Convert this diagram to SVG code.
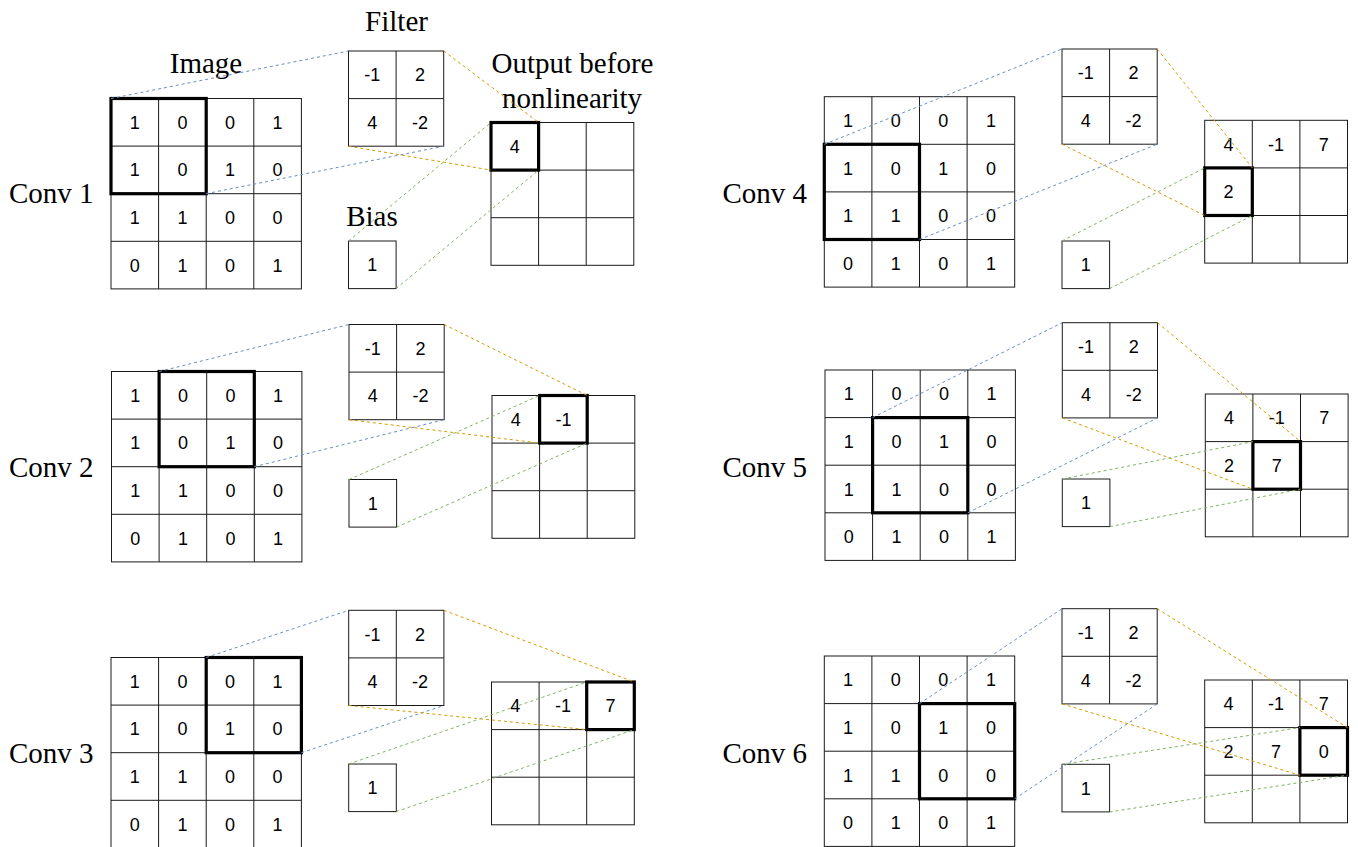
<svg xmlns="http://www.w3.org/2000/svg" width="1358" height="847" viewBox="0 0 1358 847">
<style>
.g{fill:none;stroke:#1a1a1a;stroke-width:1}
.hl{fill:none;stroke:#000;stroke-width:3.2}
.n{font-family:"Liberation Sans",Arial,sans-serif;font-size:18px;fill:#000;text-anchor:middle}
.l{font-family:"Liberation Serif","Times New Roman",serif;font-size:29px;fill:#000}
.c{text-anchor:middle}
.b{fill:none;stroke:#6c8ebf;stroke-width:1;stroke-dasharray:3 3}
.o{fill:none;stroke:#d79b00;stroke-width:1;stroke-dasharray:3 3}
.gr{fill:none;stroke:#82b366;stroke-width:1;stroke-dasharray:3 3}
</style>
<rect width="1358" height="847" fill="#fff"/>

<g id="labels">
<text class="l c" x="396.5" y="31">Filter</text>
<text class="l c" x="206" y="73">Image</text>
<text class="l c" x="372" y="226">Bias</text>
<text class="l c" x="572.5" y="73">Output before</text>
<text class="l c" x="572" y="108">nonlinearity</text>
<text class="l" x="9" y="203">Conv 1</text>
<text class="l" x="9" y="477">Conv 2</text>
<text class="l" x="9" y="763">Conv 3</text>
<text class="l" x="722.5" y="203">Conv 4</text>
<text class="l" x="722.5" y="477">Conv 5</text>
<text class="l" x="722.5" y="763">Conv 6</text>
</g>

<!-- ===== Panel 1 ===== -->
<g id="p1-image" transform="translate(111,98.5)">
<rect class="g" x="0" y="0" width="190.4" height="190.4"/>
<path class="g" d="M47.6 0V190.4M95.2 0V190.4M142.8 0V190.4M0 47.6H190.4M0 95.2H190.4M0 142.8H190.4"/>
<text class="n" x="23.8" y="30.3">1</text><text class="n" x="71.4" y="30.3">0</text><text class="n" x="119" y="30.3">0</text><text class="n" x="166.6" y="30.3">1</text>
<text class="n" x="23.8" y="77.9">1</text><text class="n" x="71.4" y="77.9">0</text><text class="n" x="119" y="77.9">1</text><text class="n" x="166.6" y="77.9">0</text>
<text class="n" x="23.8" y="125.5">1</text><text class="n" x="71.4" y="125.5">1</text><text class="n" x="119" y="125.5">0</text><text class="n" x="166.6" y="125.5">0</text>
<text class="n" x="23.8" y="173.1">0</text><text class="n" x="71.4" y="173.1">1</text><text class="n" x="119" y="173.1">0</text><text class="n" x="166.6" y="173.1">1</text>
<rect class="hl" x="0" y="0" width="95.2" height="95.2"/>
</g>
<g id="p1-filter" transform="translate(348.5,51)">
<rect class="g" x="0" y="0" width="95.2" height="95.2"/>
<path class="g" d="M47.6 0V95.2M0 47.6H95.2"/>
<text class="n" x="23.8" y="30.3">-1</text><text class="n" x="71.4" y="30.3">2</text>
<text class="n" x="23.8" y="77.9">4</text><text class="n" x="71.4" y="77.9">-2</text>
</g>
<g id="p1-bias" transform="translate(348.5,241)">
<rect class="g" x="0" y="0" width="47.6" height="47.6"/>
<text class="n" x="23.8" y="30.3">1</text>
</g>
<g id="p1-output" transform="translate(491,122.5)">
<rect class="g" x="0" y="0" width="142.8" height="142.8"/>
<path class="g" d="M47.6 0V142.8M95.2 0V142.8M0 47.6H142.8M0 95.2H142.8"/>
<text class="n" x="23.8" y="30.3">4</text>
<rect class="hl" x="0" y="0" width="47.6" height="47.6"/>
</g>

<!-- ===== Panel 2 ===== -->
<g id="p2-image" transform="translate(111.5,371.5)">
<rect class="g" x="0" y="0" width="190.4" height="190.4"/>
<path class="g" d="M47.6 0V190.4M95.2 0V190.4M142.8 0V190.4M0 47.6H190.4M0 95.2H190.4M0 142.8H190.4"/>
<text class="n" x="23.8" y="30.3">1</text><text class="n" x="71.4" y="30.3">0</text><text class="n" x="119" y="30.3">0</text><text class="n" x="166.6" y="30.3">1</text>
<text class="n" x="23.8" y="77.9">1</text><text class="n" x="71.4" y="77.9">0</text><text class="n" x="119" y="77.9">1</text><text class="n" x="166.6" y="77.9">0</text>
<text class="n" x="23.8" y="125.5">1</text><text class="n" x="71.4" y="125.5">1</text><text class="n" x="119" y="125.5">0</text><text class="n" x="166.6" y="125.5">0</text>
<text class="n" x="23.8" y="173.1">0</text><text class="n" x="71.4" y="173.1">1</text><text class="n" x="119" y="173.1">0</text><text class="n" x="166.6" y="173.1">1</text>
<rect class="hl" x="47.6" y="0" width="95.2" height="95.2"/>
</g>
<g id="p2-filter" transform="translate(349,324.5)">
<rect class="g" x="0" y="0" width="95.2" height="95.2"/>
<path class="g" d="M47.6 0V95.2M0 47.6H95.2"/>
<text class="n" x="23.8" y="30.3">-1</text><text class="n" x="71.4" y="30.3">2</text>
<text class="n" x="23.8" y="77.9">4</text><text class="n" x="71.4" y="77.9">-2</text>
</g>
<g id="p2-bias" transform="translate(349,479.5)">
<rect class="g" x="0" y="0" width="47.6" height="47.6"/>
<text class="n" x="23.8" y="30.3">1</text>
</g>
<g id="p2-output" transform="translate(492,395.5)">
<rect class="g" x="0" y="0" width="142.8" height="142.8"/>
<path class="g" d="M47.6 0V142.8M95.2 0V142.8M0 47.6H142.8M0 95.2H142.8"/>
<text class="n" x="23.8" y="30.3">4</text><text class="n" x="71.4" y="30.3">-1</text>
<rect class="hl" x="47.6" y="0" width="47.6" height="47.6"/>
</g>

<!-- ===== Panel 3 ===== -->
<g id="p3-image" transform="translate(111,657.5)">
<rect class="g" x="0" y="0" width="190.4" height="190.4"/>
<path class="g" d="M47.6 0V190.4M95.2 0V190.4M142.8 0V190.4M0 47.6H190.4M0 95.2H190.4M0 142.8H190.4"/>
<text class="n" x="23.8" y="30.3">1</text><text class="n" x="71.4" y="30.3">0</text><text class="n" x="119" y="30.3">0</text><text class="n" x="166.6" y="30.3">1</text>
<text class="n" x="23.8" y="77.9">1</text><text class="n" x="71.4" y="77.9">0</text><text class="n" x="119" y="77.9">1</text><text class="n" x="166.6" y="77.9">0</text>
<text class="n" x="23.8" y="125.5">1</text><text class="n" x="71.4" y="125.5">1</text><text class="n" x="119" y="125.5">0</text><text class="n" x="166.6" y="125.5">0</text>
<text class="n" x="23.8" y="173.1">0</text><text class="n" x="71.4" y="173.1">1</text><text class="n" x="119" y="173.1">0</text><text class="n" x="166.6" y="173.1">1</text>
<rect class="hl" x="95.2" y="0" width="95.2" height="95.2"/>
</g>
<g id="p3-filter" transform="translate(348.7,610.3)">
<rect class="g" x="0" y="0" width="95.2" height="95.2"/>
<path class="g" d="M47.6 0V95.2M0 47.6H95.2"/>
<text class="n" x="23.8" y="30.3">-1</text><text class="n" x="71.4" y="30.3">2</text>
<text class="n" x="23.8" y="77.9">4</text><text class="n" x="71.4" y="77.9">-2</text>
</g>
<g id="p3-bias" transform="translate(348.7,764)">
<rect class="g" x="0" y="0" width="47.6" height="47.6"/>
<text class="n" x="23.8" y="30.3">1</text>
</g>
<g id="p3-output" transform="translate(491.5,682)">
<rect class="g" x="0" y="0" width="142.8" height="142.8"/>
<path class="g" d="M47.6 0V142.8M95.2 0V142.8M0 47.6H142.8M0 95.2H142.8"/>
<text class="n" x="23.8" y="30.3">4</text><text class="n" x="71.4" y="30.3">-1</text><text class="n" x="119" y="30.3">7</text>
<rect class="hl" x="95.2" y="0" width="47.6" height="47.6"/>
</g>

<!-- ===== Panel 4 ===== -->
<g id="p4-image" transform="translate(824.3,96.7)">
<rect class="g" x="0" y="0" width="190.4" height="190.4"/>
<path class="g" d="M47.6 0V190.4M95.2 0V190.4M142.8 0V190.4M0 47.6H190.4M0 95.2H190.4M0 142.8H190.4"/>
<text class="n" x="23.8" y="30.3">1</text><text class="n" x="71.4" y="30.3">0</text><text class="n" x="119" y="30.3">0</text><text class="n" x="166.6" y="30.3">1</text>
<text class="n" x="23.8" y="77.9">1</text><text class="n" x="71.4" y="77.9">0</text><text class="n" x="119" y="77.9">1</text><text class="n" x="166.6" y="77.9">0</text>
<text class="n" x="23.8" y="125.5">1</text><text class="n" x="71.4" y="125.5">1</text><text class="n" x="119" y="125.5">0</text><text class="n" x="166.6" y="125.5">0</text>
<text class="n" x="23.8" y="173.1">0</text><text class="n" x="71.4" y="173.1">1</text><text class="n" x="119" y="173.1">0</text><text class="n" x="166.6" y="173.1">1</text>
<rect class="hl" x="0" y="47.6" width="95.2" height="95.2"/>
</g>
<g id="p4-filter" transform="translate(1062,49)">
<rect class="g" x="0" y="0" width="95.2" height="95.2"/>
<path class="g" d="M47.6 0V95.2M0 47.6H95.2"/>
<text class="n" x="23.8" y="30.3">-1</text><text class="n" x="71.4" y="30.3">2</text>
<text class="n" x="23.8" y="77.9">4</text><text class="n" x="71.4" y="77.9">-2</text>
</g>
<g id="p4-bias" transform="translate(1062,241)">
<rect class="g" x="0" y="0" width="47.6" height="47.6"/>
<text class="n" x="23.8" y="30.3">1</text>
</g>
<g id="p4-output" transform="translate(1204.7,120.3)">
<rect class="g" x="0" y="0" width="142.8" height="142.8"/>
<path class="g" d="M47.6 0V142.8M95.2 0V142.8M0 47.6H142.8M0 95.2H142.8"/>
<text class="n" x="23.8" y="30.3">4</text><text class="n" x="71.4" y="30.3">-1</text><text class="n" x="119" y="30.3">7</text>
<text class="n" x="23.8" y="77.9">2</text>
<rect class="hl" x="0" y="47.6" width="47.6" height="47.6"/>
</g>

<!-- ===== Panel 5 ===== -->
<g id="p5-image" transform="translate(825,370)">
<rect class="g" x="0" y="0" width="190.4" height="190.4"/>
<path class="g" d="M47.6 0V190.4M95.2 0V190.4M142.8 0V190.4M0 47.6H190.4M0 95.2H190.4M0 142.8H190.4"/>
<text class="n" x="23.8" y="30.3">1</text><text class="n" x="71.4" y="30.3">0</text><text class="n" x="119" y="30.3">0</text><text class="n" x="166.6" y="30.3">1</text>
<text class="n" x="23.8" y="77.9">1</text><text class="n" x="71.4" y="77.9">0</text><text class="n" x="119" y="77.9">1</text><text class="n" x="166.6" y="77.9">0</text>
<text class="n" x="23.8" y="125.5">1</text><text class="n" x="71.4" y="125.5">1</text><text class="n" x="119" y="125.5">0</text><text class="n" x="166.6" y="125.5">0</text>
<text class="n" x="23.8" y="173.1">0</text><text class="n" x="71.4" y="173.1">1</text><text class="n" x="119" y="173.1">0</text><text class="n" x="166.6" y="173.1">1</text>
<rect class="hl" x="47.6" y="47.6" width="95.2" height="95.2"/>
</g>
<g id="p5-filter" transform="translate(1062.3,322.7)">
<rect class="g" x="0" y="0" width="95.2" height="95.2"/>
<path class="g" d="M47.6 0V95.2M0 47.6H95.2"/>
<text class="n" x="23.8" y="30.3">-1</text><text class="n" x="71.4" y="30.3">2</text>
<text class="n" x="23.8" y="77.9">4</text><text class="n" x="71.4" y="77.9">-2</text>
</g>
<g id="p5-bias" transform="translate(1062.3,479)">
<rect class="g" x="0" y="0" width="47.6" height="47.6"/>
<text class="n" x="23.8" y="30.3">1</text>
</g>
<g id="p5-output" transform="translate(1205.3,394)">
<rect class="g" x="0" y="0" width="142.8" height="142.8"/>
<path class="g" d="M47.6 0V142.8M95.2 0V142.8M0 47.6H142.8M0 95.2H142.8"/>
<text class="n" x="23.8" y="30.3">4</text><text class="n" x="71.4" y="30.3">-1</text><text class="n" x="119" y="30.3">7</text>
<text class="n" x="23.8" y="77.9">2</text><text class="n" x="71.4" y="77.9">7</text>
<rect class="hl" x="47.6" y="47.6" width="47.6" height="47.6"/>
</g>

<!-- ===== Panel 6 ===== -->
<g id="p6-image" transform="translate(824.3,656)">
<rect class="g" x="0" y="0" width="190.4" height="190.4"/>
<path class="g" d="M47.6 0V190.4M95.2 0V190.4M142.8 0V190.4M0 47.6H190.4M0 95.2H190.4M0 142.8H190.4"/>
<text class="n" x="23.8" y="30.3">1</text><text class="n" x="71.4" y="30.3">0</text><text class="n" x="119" y="30.3">0</text><text class="n" x="166.6" y="30.3">1</text>
<text class="n" x="23.8" y="77.9">1</text><text class="n" x="71.4" y="77.9">0</text><text class="n" x="119" y="77.9">1</text><text class="n" x="166.6" y="77.9">0</text>
<text class="n" x="23.8" y="125.5">1</text><text class="n" x="71.4" y="125.5">1</text><text class="n" x="119" y="125.5">0</text><text class="n" x="166.6" y="125.5">0</text>
<text class="n" x="23.8" y="173.1">0</text><text class="n" x="71.4" y="173.1">1</text><text class="n" x="119" y="173.1">0</text><text class="n" x="166.6" y="173.1">1</text>
<rect class="hl" x="95.2" y="47.6" width="95.2" height="95.2"/>
</g>
<g id="p6-filter" transform="translate(1062,608.7)">
<rect class="g" x="0" y="0" width="95.2" height="95.2"/>
<path class="g" d="M47.6 0V95.2M0 47.6H95.2"/>
<text class="n" x="23.8" y="30.3">-1</text><text class="n" x="71.4" y="30.3">2</text>
<text class="n" x="23.8" y="77.9">4</text><text class="n" x="71.4" y="77.9">-2</text>
</g>
<g id="p6-bias" transform="translate(1062,764.3)">
<rect class="g" x="0" y="0" width="47.6" height="47.6"/>
<text class="n" x="23.8" y="30.3">1</text>
</g>
<g id="p6-output" transform="translate(1204.7,680)">
<rect class="g" x="0" y="0" width="142.8" height="142.8"/>
<path class="g" d="M47.6 0V142.8M95.2 0V142.8M0 47.6H142.8M0 95.2H142.8"/>
<text class="n" x="23.8" y="30.3">4</text><text class="n" x="71.4" y="30.3">-1</text><text class="n" x="119" y="30.3">7</text>
<text class="n" x="23.8" y="77.9">2</text><text class="n" x="71.4" y="77.9">7</text><text class="n" x="119" y="77.9">0</text>
<rect class="hl" x="95.2" y="47.6" width="47.6" height="47.6"/>
</g>

<g id="connectors">
<!-- P1 -->
<line class="b" x1="111" y1="98.5" x2="348.5" y2="51"/>
<line class="b" x1="206.2" y1="193.7" x2="443.7" y2="146.2"/>
<line class="o" x1="443.7" y1="51" x2="538.6" y2="122.5"/>
<line class="o" x1="348.5" y1="146.2" x2="491" y2="170.1"/>
<line class="gr" x1="348.5" y1="241" x2="491" y2="122.5"/>
<line class="gr" x1="396.1" y1="288.6" x2="538.6" y2="170.1"/>
<!-- P2 -->
<line class="b" x1="159.1" y1="371.5" x2="349" y2="324.5"/>
<line class="b" x1="254.3" y1="466.7" x2="444.2" y2="419.7"/>
<line class="o" x1="444.2" y1="324.5" x2="587.2" y2="395.5"/>
<line class="o" x1="349" y1="419.7" x2="539.6" y2="443.1"/>
<line class="gr" x1="349" y1="479.5" x2="539.6" y2="395.5"/>
<line class="gr" x1="396.6" y1="527.1" x2="587.2" y2="443.1"/>
<!-- P3 -->
<line class="b" x1="206.2" y1="657.5" x2="348.7" y2="610.3"/>
<line class="b" x1="301.4" y1="752.7" x2="443.9" y2="705.5"/>
<line class="o" x1="443.9" y1="610.3" x2="634.3" y2="682"/>
<line class="o" x1="348.7" y1="705.5" x2="586.7" y2="729.6"/>
<line class="gr" x1="348.7" y1="764" x2="586.7" y2="682"/>
<line class="gr" x1="396.3" y1="811.6" x2="634.3" y2="729.6"/>
<!-- P4 -->
<line class="b" x1="824.3" y1="144.3" x2="1062" y2="49"/>
<line class="b" x1="919.5" y1="239.5" x2="1157.2" y2="144.2"/>
<line class="o" x1="1157.2" y1="49" x2="1252.3" y2="167.9"/>
<line class="o" x1="1062" y1="144.2" x2="1204.7" y2="215.5"/>
<line class="gr" x1="1062" y1="241" x2="1204.7" y2="167.9"/>
<line class="gr" x1="1109.6" y1="288.6" x2="1252.3" y2="215.5"/>
<!-- P5 -->
<line class="b" x1="872.6" y1="417.6" x2="1062.3" y2="322.7"/>
<line class="b" x1="967.8" y1="512.8" x2="1157.5" y2="417.9"/>
<line class="o" x1="1157.5" y1="322.7" x2="1300.5" y2="441.6"/>
<line class="o" x1="1062.3" y1="417.9" x2="1252.9" y2="489.2"/>
<line class="gr" x1="1062.3" y1="479" x2="1252.9" y2="441.6"/>
<line class="gr" x1="1109.9" y1="526.6" x2="1300.5" y2="489.2"/>
<!-- P6 -->
<line class="b" x1="919.5" y1="703.6" x2="1062" y2="608.7"/>
<line class="b" x1="1014.7" y1="798.8" x2="1157.2" y2="703.9"/>
<line class="o" x1="1157.2" y1="608.7" x2="1347.5" y2="727.6"/>
<line class="o" x1="1062" y1="703.9" x2="1299.9" y2="775.2"/>
<line class="gr" x1="1062" y1="764.3" x2="1299.9" y2="727.6"/>
<line class="gr" x1="1109.6" y1="811.9" x2="1347.5" y2="775.2"/>
</g>
</svg>
